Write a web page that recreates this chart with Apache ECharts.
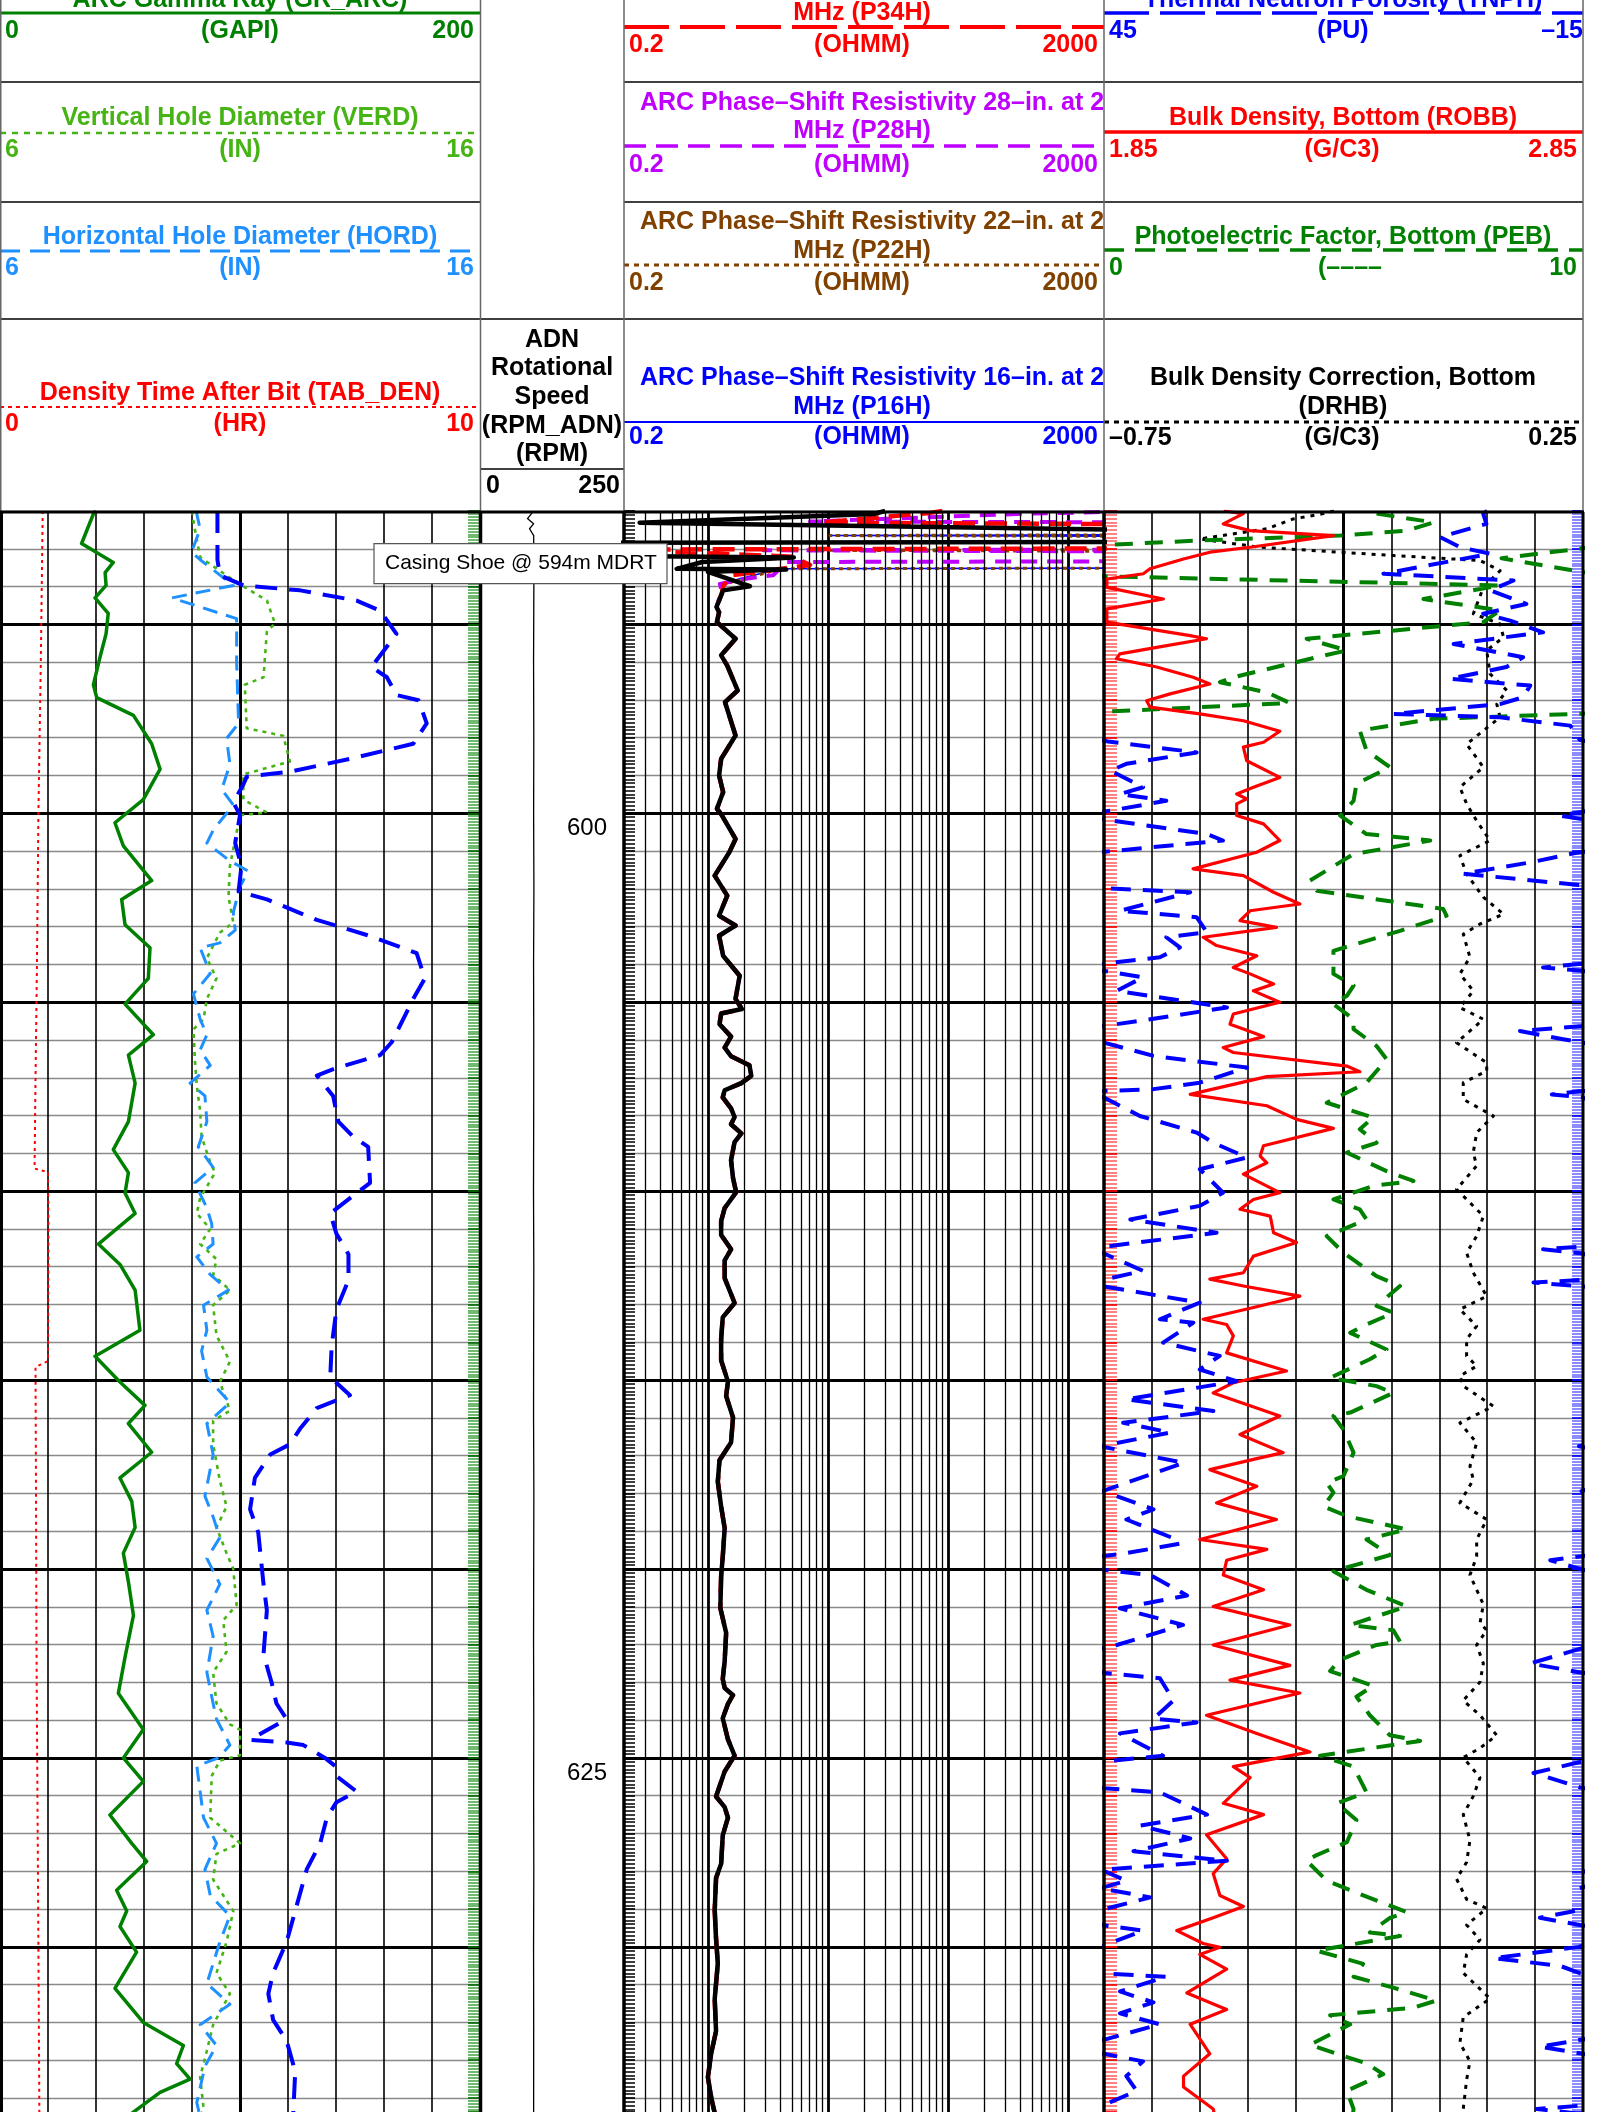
<!DOCTYPE html>
<html><head><meta charset="utf-8">
<script src="https://cdn.jsdelivr.net/npm/echarts@6.0.0/dist/echarts.min.js"></script>
<style>html,body{margin:0;padding:0;background:#fff}#c{width:1597px;height:2112px}</style>
</head><body><div id="c"></div>
<script>
// ---------------- DATA (depth m, value) ----------------
const GR_LOG = [[592.0,40],[592.08,38.9],[592.86,34.0],[593.36,47.2],[593.63,43.8],[593.97,44.2],[594.3,39.6],[594.71,45.1],[595.25,44.2],[595.86,41.7],[596.6,38.9],[596.94,40.3],[597.41,55.6],[598.16,63.2],[598.83,66.7],[599.64,59.7],[600.25,47.9],[600.86,51.4],[601.78,63.2],[602.28,50.7],[602.95,52.1],[603.56,62.5],[604.37,61.8],[605.05,52.1],[605.86,63.9],[606.4,53.5],[607.14,56.3],[608.16,53.5],[608.9,47.2],[609.51,53.5],[610.05,52.1],[610.59,56.3],[611.4,41.0],[611.94,50.0],[612.62,56.3],[613.68,58.3],[614.37,39.6],[615.05,50.0],[615.67,60.4],[616.15,53.5],[616.91,63.2],[617.59,50.0],[618.21,54.9],[618.9,56.3],[619.58,51.4],[620.34,53.5],[621.23,55.6],[622.33,52.1],[623.29,49.3],[624.25,59.7],[625.0,51.4],[625.62,59.7],[626.51,45.8],[627.26,54.9],[627.74,61.1],[628.5,48.6],[629.05,52.8],[629.46,50.0],[630.14,56.9],[631.1,47.9],[632.0,59.7],[632.61,76.4],[633.09,73.6],[633.5,79.2],[633.85,66.7],[634.4,55]];
const VERD_LOG = [[592.0,10.0],[592.28,10.03],[593.22,10.17],[593.83,10.86],[594.37,11.56],[594.98,11.73],[595.18,11.56],[596.4,11.49],[596.6,11.1],[597.75,11.14],[597.95,11.9],[598.63,12.04],[598.9,11.28],[598.97,11.07],[599.64,11.07],[599.98,11.56],[600.05,11.0],[601.4,10.79],[602.21,10.76],[602.89,10.86],[603.16,10.58],[603.83,10.31],[604.37,10.51],[604.91,10.31],[605.45,10.24],[605.72,10.03],[606.53,10.06],[607.21,10.1],[607.89,10.17],[608.56,10.2],[609.24,10.38],[609.51,10.48],[610.18,10.17],[610.59,10.1],[611.0,10.38],[611.4,10.17],[611.8,10.51],[612.21,10.44],[612.62,10.79],[613.02,10.44],[613.82,10.51],[614.51,10.79],[615.05,10.58],[615.81,10.79],[616.08,10.44],[616.7,10.44],[617.66,10.58],[618.35,10.72],[618.9,10.51],[619.58,10.72],[620.0,10.86],[620.95,10.93],[621.36,10.65],[622.19,10.72],[622.74,10.44],[623.56,10.51],[624.11,10.79],[624.25,11.0],[624.93,11.0],[625.07,10.58],[625.48,10.41],[626.58,10.38],[627.26,11.0],[627.54,10.51],[628.22,10.44],[629.05,10.86],[629.87,10.72],[630.69,10.51],[631.24,10.79],[632.06,10.44],[632.75,10.31],[633.44,10.17],[634.26,10.24],[634.4,10.2]];
const HORD_LOG = [[592.0,10.1],[592.08,10.1],[592.48,10.17],[593.09,9.99],[593.29,10.17],[593.97,10.86],[594.3,9.58],[594.85,10.93],[596.0,10.93],[597.62,10.97],[598.02,10.72],[598.7,10.79],[599.37,10.62],[599.78,10.86],[600.45,10.44],[600.79,10.31],[601.26,10.79],[601.53,11.17],[601.94,11.0],[602.62,10.86],[603.09,10.9],[603.43,10.58],[603.56,10.17],[604.24,10.38],[604.78,10.03],[605.45,10.17],[605.86,10.31],[606.26,10.17],[606.67,10.38],[607.14,9.96],[607.48,10.27],[608.16,10.31],[608.83,10.13],[609.37,10.44],[609.78,10.06],[610.45,10.31],[610.86,10.41],[611.4,10.44],[611.74,10.1],[612.21,10.38],[612.62,10.76],[613.02,10.24],[613.68,10.31],[614.23,10.2],[614.92,10.31],[615.6,10.79],[616.15,10.31],[616.97,10.44],[618.07,10.27],[618.62,10.44],[619.17,10.58],[619.72,10.31],[620.4,10.58],[621.09,10.31],[621.78,10.44],[622.74,10.31],[623.56,10.44],[623.97,10.51],[624.66,10.79],[625.0,10.55],[625.21,10.1],[625.89,10.17],[626.58,10.24],[627.26,10.51],[627.95,10.27],[628.64,10.38],[629.18,10.79],[629.87,10.58],[630.97,10.31],[631.52,10.79],[632.06,10.17],[632.61,10.51],[633.16,10.27],[634.12,10.1],[634.4,10.15]];
const TAB_LOG = [[592.0,0.89],[596.0,0.85],[600.0,0.80],[604.0,0.77],[607.0,0.74],[609.4,0.72],[609.5,1.0],[611.0,1.01],[614.5,1.0],[614.65,0.74],[618.0,0.75],[622.0,0.76],[626.0,0.78],[630.0,0.8],[634.4,0.82]];
// unlabelled dark-blue dashed curve of track 1 (its header is above the picture), read on the 6-16 in scale
const CAL2_LOG = [[592.0,10.53],[593.29,10.53],[593.7,10.58],[593.97,11.07],[594.1,12.25],[594.37,13.43],[594.64,13.92],[595.25,14.26],[596.13,13.74],[596.4,14.06],[596.87,14.26],[597.01,14.72],[597.62,14.89],[598.16,14.61],[598.56,13.29],[598.9,12.04],[599.03,11.14],[599.24,11.07],[599.71,10.86],[600.05,11.0],[600.79,10.9],[601.4,11.03],[602.07,10.97],[602.28,11.56],[602.82,12.6],[603.22,13.64],[603.7,14.68],[604.37,14.85],[604.91,14.61],[606.06,14.16],[606.4,13.92],[606.74,13.01],[606.94,12.6],[607.48,12.94],[608.16,13.05],[608.56,13.36],[608.83,13.67],[609.78,13.71],[610.12,13.36],[610.59,12.88],[611.13,13.01],[611.67,13.26],[612.35,13.26],[613.13,13.01],[614.09,12.91],[614.92,12.88],[615.4,13.29],[615.74,12.6],[616.29,12.25],[616.7,12.04],[616.97,11.63],[617.59,11.31],[618.42,11.21],[619.03,11.38],[620.4,11.49],[621.09,11.56],[622.26,11.49],[623.01,11.66],[623.56,11.76],[623.97,11.97],[624.52,11.21],[624.59,11.97],[624.66,12.32],[625.0,12.77],[625.21,12.98],[625.48,13.01],[625.89,13.43],[626.17,13.01],[626.58,12.81],[627.26,12.67],[627.95,12.39],[628.91,12.18],[629.87,11.97],[630.69,11.69],[631.24,11.59],[631.93,11.69],[632.48,11.97],[633.3,12.15],[634.4,12.11]];
const RPM_LOG = [[592.0,91],[592.07,89.5],[592.2,82.4],[592.34,93],[592.47,86],[592.65,93.2],[594,93.5],[596,93.0],[598,93.4],[600,93.1],[602,93.6],[604,93.0],[606,93.3],[608,93.2],[610,92.9],[612,93.4],[614,93.1],[616,93.0],[618,93.5],[620,93.2],[622,93.0],[624,93.3],[626,93.1],[628,93.4],[630,93.0],[632,93.2],[634.4,93.1]];
// track 3 resistivities (ohm.m); the thick black curve's header is above the picture
const RES_TOP = [[592.0,30],[592.08,24],[592.31,0.27],[592.51,5000],[592.82,5000],[592.84,0.15],[593.19,0.15],[593.23,5.2],[593.35,0.9],[593.53,0.55],[593.55,4.5],[593.61,1.0],[593.99,2.24],[594.1,1.34]];
const RES_BODY = [[594.54,1.18],[594.68,1.24],[594.94,1.19],[595.38,1.70],[595.82,1.29],[596.09,1.45],[596.75,1.77],[597.06,1.39],[597.94,1.70],[598.56,1.29],[599.0,1.24],[599.44,1.34],[599.88,1.19],[600.02,1.29],[600.68,1.70],[601.03,1.51],[601.65,1.14],[602.18,1.45],[602.71,1.24],[602.97,1.70],[603.24,1.24],[603.77,1.34],[604.3,1.84],[604.91,1.70],[605.18,1.92],[605.3,1.29],[605.58,1.25],[605.91,1.56],[606.2,1.38],[606.43,1.56],[606.67,2.22],[606.95,2.30],[607.14,1.90],[607.33,1.38],[607.52,1.33],[607.81,1.56],[608.04,1.67],[608.23,1.56],[608.47,1.90],[608.7,1.67],[609.18,1.56],[609.65,1.62],[610.03,1.72],[610.45,1.38],[610.79,1.29],[611.16,1.29],[611.54,1.56],[611.83,1.38],[612.3,1.38],[612.96,1.67],[613.34,1.33],[613.91,1.29],[614.48,1.29],[615.04,1.47],[615.42,1.42],[615.99,1.62],[616.65,1.56],[617.12,1.25],[617.69,1.21],[618.35,1.29],[618.92,1.38],[619.68,1.33],[620.18,1.29],[621.03,1.27],[621.69,1.42],[622.44,1.38],[622.91,1.33],[623.15,1.38],[623.34,1.62],[623.57,1.47],[623.95,1.33],[624.51,1.47],[624.94,1.67],[625.36,1.38],[626.02,1.17],[626.3,1.38],[626.58,1.47],[627.05,1.33],[627.8,1.29],[628.18,1.17],[629.03,1.14],[629.78,1.17],[630.44,1.21],[631.38,1.14],[632.23,1.17],[632.79,1.07],[633.45,1.0],[634.01,1.07],[634.4,1.14]];
const P34H_TOP = [[592.0,90],[592.05,71],[592.31,8.6],[592.35,5000],[592.99,5000],[593.02,0.15],[593.21,5.15],[593.43,7.1],[593.7,1.6],[593.97,1.35],[594.2,1.3]];
const P28H_TOP = [[592.0,5000],[592.07,454],[592.28,7.1],[592.3,5000],[593.02,5000],[593.04,2.9],[593.07,5000],[593.33,5000],[593.35,4.54],[593.7,3.5],[593.8,2.0],[593.93,1.26],[594.1,1.3]];
const P22H_TOP = [[592.0,5000],[592.63,5000],[592.65,10.4],[592.67,5000],[593.02,5000],[593.04,9.8],[593.07,5000],[593.51,5000],[593.53,3.99],[593.8,2.0],[593.95,1.3],[594.2,1.3]];
const P16H_TOP = [[592.0,5000],[592.63,5000],[592.65,10.4],[592.67,5000],[593.51,5000],[593.53,3.99],[593.8,1.8],[593.95,1.3],[594.2,1.3]];
// track 4
const TNPH_LOG = [[592.0,57],[592.07,57.5],[592.34,57.1],[592.69,62.9],[592.96,60.4],[593.13,56.6],[593.66,70.0],[593.84,53.7],[594.1,56.6],[594.46,52.1],[594.72,57.5],[594.9,54.1],[595.21,50.0],[595.52,61.2],[595.87,52.5],[596.13,54.6],[596.44,61.7],[596.62,51.6],[596.93,52.5],[597.11,55.4],[597.37,68.8],[597.46,55.4],[597.68,46.6],[598.06,45.4],[598.1,44.5],[598.39,33.4],[598.69,42.2],[598.87,44.2],[599.31,40.1],[599.49,43.0],[599.67,37.2],[599.93,44.2],[600.06,47.9],[600.2,43.8],[600.55,32.1],[600.72,30.1],[601.03,45.5],[601.3,51.6],[601.6,60.0],[601.9,45.4],[601.98,45.0],[602.09,34.2],[602.58,43.0],[602.75,33.4],[603.15,32.1],[603.28,37.2],[603.55,35.5],[603.81,38.0],[603.99,45.5],[604.08,50.0],[604.17,45.0],[604.34,40.1],[604.7,43.4],[605.14,29.6],[605.45,39.2],[605.63,45.0],[605.76,52.9],[605.98,47.5],[606.07,45.0],[606.42,38.8],[606.73,27.1],[607.13,33.0],[607.3,38.8],[607.35,45.2],[607.44,48.9],[607.52,45.0],[607.74,43.0],[608.01,40.5],[608.45,33.4],[608.72,31.3],[609.11,27.1],[609.42,33.0],[610.04,30.1],[610.39,33.0],[610.75,41.7],[611.1,30.9],[611.45,44.2],[611.54,50.0],[611.65,45.0],[612.11,40.1],[612.35,45.2],[612.42,51.2],[612.52,45.0],[612.95,33.0],[613.39,38.0],[613.48,33.8],[614.01,37.6],[614.36,30.5],[614.72,33.0],[615.03,28.4],[615.51,42.2],[615.82,31.3],[616.13,42.6],[616.39,36.7],[616.75,45.5],[617.19,35.0],[617.94,45.2],[618.42,38.8],[618.69,42.2],[619.22,35.9],[619.33,35.5],[619.58,42.2],[619.77,49.1],[620.02,45.0],[620.16,39.2],[620.7,34.6],[621.04,43.0],[621.48,35.1],[622.01,43.4],[622.1,45.2],[622.5,51.6],[622.75,45.0],[622.89,38.0],[623.48,36.3],[623.96,38.8],[624.06,33.4],[624.35,43.0],[624.94,37.6],[625.1,45.2],[625.4,51.2],[625.8,45.0],[625.91,38.0],[626.5,32.1],[626.79,40.5],[627.13,34.2],[627.47,41.3],[627.72,29.6],[627.96,45.3],[628.25,42.2],[628.45,45.5],[628.69,39.2],[629.03,45.5],[629.23,50.4],[629.42,45.4],[629.57,40.1],[630.0,45.5],[630.3,56.2],[630.5,47.9],[630.7,45.3],[630.79,37.2],[631.18,43.0],[631.47,38.8],[631.76,43.0],[632.05,38.0],[632.44,44.7],[632.64,50.4],[632.83,45.0],[633.03,40.1],[633.42,42.2],[633.81,40.9],[634.2,45.2],[634.29,50.8],[634.4,46]];
const ROBB_LOG = [[592.0,2.10],[592.07,2.141],[592.34,2.099],[592.52,2.155],[592.65,2.329],[592.96,2.155],[593.09,2.071],[593.27,2.016],[593.53,1.946],[593.66,1.932],[593.8,1.856],[594.02,1.856],[594.33,1.974],[594.59,1.856],[594.94,1.856],[595.3,2.03],[595.38,2.064],[595.61,1.96],[595.78,1.883],[595.91,1.876],[596.13,1.96],[596.4,2.036],[596.58,2.071],[596.84,1.988],[597.02,1.939],[597.19,1.946],[597.37,2.05],[597.55,2.141],[597.83,2.217],[598.12,2.183],[598.25,2.141],[598.61,2.148],[599.05,2.217],[599.31,2.162],[599.49,2.127],[599.62,2.148],[599.75,2.127],[600.06,2.127],[600.28,2.183],[600.72,2.217],[601.03,2.169],[601.47,2.036],[601.65,2.141],[602.09,2.204],[602.4,2.259],[602.58,2.155],[602.84,2.134],[603.02,2.21],[603.28,2.057],[603.5,2.085],[603.77,2.169],[604.08,2.12],[604.25,2.155],[604.52,2.204],[604.7,2.162],[605.0,2.217],[605.31,2.12],[605.58,2.113],[605.71,2.141],[605.91,2.183],[606.2,2.099],[606.33,2.12],[606.69,2.357],[606.84,2.384],[606.97,2.19],[607.44,2.03],[607.74,2.19],[608.1,2.252],[608.34,2.329],[608.8,2.183],[609.07,2.176],[609.25,2.19],[609.55,2.141],[610.04,2.217],[610.22,2.162],[610.48,2.134],[610.66,2.197],[611.1,2.204],[611.36,2.252],[611.72,2.162],[612.16,2.141],[612.33,2.071],[612.51,2.141],[612.78,2.259],[613.08,2.162],[613.39,2.057],[613.53,2.106],[613.83,2.12],[614.28,2.106],[614.76,2.231],[615.07,2.12],[615.34,2.078],[615.95,2.217],[616.44,2.134],[616.92,2.224],[617.1,2.162],[617.37,2.071],[617.81,2.169],[618.25,2.085],[618.69,2.21],[619.22,2.05],[619.48,2.19],[619.77,2.106],[620.16,2.099],[620.55,2.183],[620.99,2.078],[621.48,2.238],[622.01,2.078],[622.55,2.238],[622.94,2.113],[623.28,2.259],[623.87,2.064],[624.35,2.169],[624.84,2.28],[625.23,2.12],[625.52,2.155],[626.2,2.099],[626.5,2.183],[627.03,2.064],[627.67,2.106],[628.06,2.078],[628.64,2.092],[628.93,2.141],[629.23,2.078],[629.57,2.002],[629.91,2.057],[630.01,2.092],[630.2,2.05],[630.59,2.106],[631.22,2.023],[631.66,2.106],[632.05,2.03],[632.83,2.071],[633.42,2.016],[633.71,2.016],[634.29,2.078],[634.4,2.08]];
const PEB_LOG = [[592.07,5.69],[592.3,6.88],[592.52,6.33],[592.65,4.93],[592.78,2.0],[592.92,-0.3],[592.93,null],[592.94,10.3],[593.25,8.3],[593.68,10.3],[593.7,null],[593.72,-0.3],[593.97,8.27],[594.33,6.67],[594.63,8.27],[594.94,7.92],[595.38,4.23],[595.69,5.07],[595.87,4.44],[596.4,2.7],[596.53,2.42],[596.8,3.4],[597.08,3.88],[597.33,-0.3],[597.34,null],[597.35,10.3],[597.5,6.88],[597.81,5.34],[598.34,5.48],[598.78,5.97],[599.22,5.27],[599.67,5.21],[600.06,4.93],[600.55,5.48],[600.72,6.81],[601.08,5.21],[601.78,4.3],[602.05,4.44],[602.53,7.08],[602.71,7.15],[603.11,6.18],[603.64,4.79],[604.25,4.79],[604.56,5.21],[604.83,5.07],[605.05,4.79],[605.45,5.21],[605.71,5.21],[606.16,5.69],[606.51,5.9],[607.13,5.48],[607.48,4.93],[607.66,4.65],[608.05,5.62],[608.36,5.34],[608.72,5.69],[608.98,5.07],[609.47,5.9],[609.73,6.46],[609.86,5.62],[610.22,4.79],[610.48,5.34],[610.75,5.48],[611.19,4.65],[611.63,5.0],[612.25,5.69],[612.51,6.18],[613.04,5.69],[613.22,6.04],[613.57,5.41],[613.75,5.14],[614.19,5.9],[614.45,5.55],[614.94,4.72],[615.16,5.69],[615.34,6.04],[615.86,5.14],[615.95,4.79],[616.31,5.0],[616.92,5.21],[617.54,5.0],[617.72,4.65],[617.98,4.79],[618.34,4.58],[618.6,5.07],[618.95,6.32],[619.22,5.48],[619.63,5.97],[620.06,4.79],[620.55,5.48],[620.99,6.32],[621.48,5.14],[621.62,6.04],[621.92,6.18],[622.01,5.69],[622.4,4.93],[622.7,4.72],[623.09,5.62],[623.38,5.27],[623.87,5.55],[624.4,5.97],[624.55,6.6],[624.94,4.51],[625.23,5.21],[625.91,5.48],[626.2,4.86],[626.64,5.27],[627.23,5.07],[627.57,4.44],[627.72,4.23],[628.25,4.65],[628.5,5.14],[629.08,6.32],[629.23,5.97],[629.62,5.55],[629.71,6.18],[630.1,4.44],[630.45,5.41],[630.79,5.21],[631.08,6.04],[631.42,6.94],[631.61,6.46],[631.81,4.72],[632.05,5.14],[632.59,4.3],[632.83,4.86],[633.08,5.48],[633.37,5.83],[633.81,5.07],[634.29,5.21],[634.4,5.2]];
const DRHB_LOG = [[592.0,-0.27],[592.07,-0.292],[592.21,-0.355],[592.47,-0.41],[592.74,-0.55],[592.96,-0.424],[593.18,-0.146],[593.31,0.035],[593.58,0.077],[594.02,0.042],[594.72,0.021],[594.99,0.077],[595.34,0.084],[595.69,0.049],[596.31,0.056],[596.75,0.091],[597.11,0.07],[597.46,0.077],[597.81,0.042],[598.17,0.007],[598.78,0.042],[599.31,-0.007],[599.75,0.007],[600.2,0.028],[600.72,0.056],[601.12,-0.007],[601.61,0.007],[602.22,0.042],[602.67,0.084],[602.93,0.035],[603.2,0.0],[603.81,0.014],[604.25,-0.007],[604.7,0.021],[605.14,-0.007],[605.45,0.042],[606.07,-0.014],[606.6,0.049],[606.82,0.049],[607.13,0.0],[607.57,0.0],[608.01,0.063],[608.45,0.028],[608.98,0.021],[609.33,0.028],[609.95,-0.014],[610.66,0.042],[611.19,0.028],[611.63,0.007],[612.16,0.021],[612.78,0.049],[613.13,-0.007],[613.57,0.028],[613.92,0.007],[614.36,0.007],[614.63,0.028],[614.89,-0.007],[615.16,0.0],[615.69,0.063],[616.13,-0.007],[616.66,0.028],[617.28,0.014],[617.63,0.021],[618.25,-0.007],[618.69,0.049],[619.22,0.028],[619.67,0.028],[620.16,0.014],[620.94,0.042],[621.43,0.035],[621.62,0.049],[622.01,0.028],[622.5,0.042],[622.99,0.035],[623.48,0.0],[623.87,0.035],[624.4,0.07],[624.74,0.035],[624.99,0.0],[625.52,0.035],[626.01,0.021],[626.5,0.0],[627.18,0.014],[627.76,0.007],[628.2,-0.014],[628.74,0.007],[628.98,0.049],[629.42,0.007],[629.81,0.035],[630.2,0.007],[630.69,0.0],[631.37,0.056],[631.86,0.0],[632.54,-0.007],[633.03,0.014],[633.52,0.007],[634.29,0.0],[634.4,0.0]];
// log-grid minor lines of the resistivity track and depth labels / annotation
const LOG_MINOR_TICKS = [0.3,0.4,0.5,0.6,0.7,0.8,0.9,2,3,4,5,6,7,8,9,20,30,40,50,60,70,80,90,200,300,400,500,600,700,800,900];
const DEPTH_LABEL_STEP = 25;
const CASING_SHOE_DEPTH = 594;
const CASING_SHOE_TEXT = 'Casing Shoe @ 594m MDRT';

// ---------------- LAYOUT ----------------
const DEPTH_MIN = 592, DEPTH_MAX = 634.37;
const GRID_TOP = 511, GRID_H = 1601;
const FONT = '"Liberation Sans", Arial, Helvetica, sans-serif';
const C = {gr:'#008000', verd:'#46B414', hord:'#1E90FF', red:'#FF0000', blue:'#0000FF', purple:'#BF00FF', brown:'#804000', black:'#000000', green:'#008000'};
const T = 'rgba(0,0,0,0)';
const MAJOR_COLORS = [T, T, T, '#000', T];

function yAx(grid, pos, extra) {
  return Object.assign({type:'value', gridIndex:grid, position:pos, min:DEPTH_MIN, max:DEPTH_MAX, interval:1, inverse:true,
    axisLine:{show:false}, axisTick:{show:false}, minorTick:{show:false}, axisLabel:{show:false}, splitLine:{show:false}}, extra || {});
}
const minorSplit = {show:true, showMinLine:true, showMaxLine:false, lineStyle:{color:'#8a8a8a', width:1.4}};
const majorSplit = {show:true, showMinLine:true, showMaxLine:false, lineStyle:{color:MAJOR_COLORS, width:2.8}};
function ticks(color, minorColor, len, split, inside) {
  return {axisTick:{show:true, inside:inside, length:len, lineStyle:{color:color, width:1.7}},
          minorTick:{show:true, splitNumber:split, length:len, lineStyle:{color:minorColor, width:1.5}}};
}
function gridX(grid, interval, width) {
  return {type:'value', gridIndex:grid, min:0, max:10, interval:interval, axisLine:{show:false}, axisTick:{show:false}, axisLabel:{show:false},
    splitLine:{show:true, showMinLine:false, showMaxLine:false, lineStyle:{color:'#000', width:width}}};
}
function hiddenX(grid, min, max, extra) {
  return Object.assign({type:'value', gridIndex:grid, min:min, max:max, show:false, splitLine:{show:false}}, extra || {});
}
function curve(name, arr, xi, yi, color, width, type, z) {
  return {type:'line', name:name, xAxisIndex:xi, yAxisIndex:yi,
    data: arr.map(p => [p[1] === null ? '-' : p[1], p[0]]),
    symbol:'none', showSymbol:false, silent:true, animation:false, connectNulls:false, clip:true, z:z || 3,
    lineStyle:{color:color, width:width, type:type || 'solid', cap:'butt', join:'round'}};
}

const xAxis = [
  gridX(0, 1, 1.6),                 // 0 track1 grid
  gridX(0, 5, 3),                   // 1 track1 centre line
  hiddenX(0, 0, 200),               // 2 GR
  hiddenX(0, 6, 16),                // 3 calipers
  hiddenX(1, 0, 250),               // 4 RPM
  {type:'log', gridIndex:2, min:0.2, max:2000, logBase:10, splitNumber:4, axisLine:{show:false}, axisTick:{show:false}, axisLabel:{show:false},
    splitLine:{show:true, showMinLine:false, showMaxLine:false, lineStyle:{color:'#000', width:2.8}}}, // 5 resistivity
  gridX(3, 1, 1.6),                 // 6 track4 grid
  gridX(3, 5, 3),                   // 7 track4 centre
  hiddenX(3, -15, 45, {inverse:true}),  // 8 TNPH
  hiddenX(3, 45, 105, {inverse:true}),  // 9 TNPH backup (wrap)
  hiddenX(3, 1.85, 2.85),           // 10 ROBB
  hiddenX(3, -0.75, 0.25),          // 11 DRHB
  hiddenX(4, 0, 1)                  // 12 edge strip
];
const yAxis = [
  yAx(0, 'left', {splitLine:minorSplit}),
  yAx(0, 'right', {splitLine:majorSplit}),
  yAx(1, 'right', {axisLabel:{show:true, inside:true, margin:17, verticalAlign:'top', padding:[3,0,0,0], fontSize:24, fontFamily:FONT, color:'#000',
      formatter: v => (Math.abs(v % DEPTH_LABEL_STEP) < 1e-6 ? String(v) : '')}}),
  yAx(2, 'left', Object.assign({splitLine:minorSplit}, ticks('#000', '#000', 11, 10, true))),
  yAx(2, 'right', {splitLine:majorSplit}),
  yAx(3, 'left', Object.assign({splitLine:minorSplit}, ticks('#FF0000', 'rgba(255,0,0,0.65)', 13, 10, true))),
  yAx(3, 'right', {splitLine:majorSplit}),
  // green ticks on the right edge of track 1 (drawn outward from track 2's left edge)
  yAx(1, 'left', ticks('#007000', 'rgba(0,130,0,0.75)', 12, 13, false)),
  // blue ticks on the right edge of track 4 (drawn outward from a thin strip beyond it)
  yAx(4, 'left', ticks('#0000FF', 'rgba(0,0,255,0.6)', 11, 13, false))
];

const series = [
  {type:'line', xAxisIndex:5, yAxisIndex:3, data:[], symbol:'none', silent:true, z:1, animation:false,
    markLine:{silent:true, symbol:['none','none'], animation:false, label:{show:false}, emphasis:{disabled:true},
      lineStyle:{color:'#000', width:1.3, type:'solid'}, data: LOG_MINOR_TICKS.map(v => ({xAxis:v}))}},
  {type:'line', xAxisIndex:12, yAxisIndex:8, data:[], symbol:'none', silent:true},
  curve('TAB_DEN', TAB_LOG, 0, 0, C.red, 2, [3,4]),
  curve('VERD', VERD_LOG, 3, 0, C.verd, 2.6, [4,5]),
  curve('HORD', HORD_LOG, 3, 0, C.hord, 3, [15,9]),
  curve('CAL2', CAL2_LOG, 3, 0, C.blue, 4, [22,12]),
  curve('GR_ARC', GR_LOG, 2, 0, C.gr, 3.5, 'solid', 4),
  curve('RPM_ADN', RPM_LOG, 4, 2, '#000', 1.3),
  curve('P16H', P16H_TOP.concat(RES_BODY), 5, 3, C.blue, 1.6),
  curve('P22H', P22H_TOP.concat(RES_BODY), 5, 3, C.brown, 3, [4,4]),
  curve('P28H', P28H_TOP.concat(RES_BODY), 5, 3, C.purple, 4, [16,10]),
  curve('P34H', P34H_TOP.concat(RES_BODY), 5, 3, C.red, 4.5, [22,10]),
  curve('RES_BLACK', RES_TOP.concat(RES_BODY), 5, 3, '#000', 4.5, 'solid', 4),
  curve('DRHB', DRHB_LOG, 11, 5, '#000', 3, [4,6]),
  curve('PEB', PEB_LOG, 6, 5, C.green, 4, [18,12]),
  curve('ROBB', ROBB_LOG, 10, 5, C.red, 3.2),
  curve('TNPH', TNPH_LOG, 8, 5, C.blue, 4, [20,12], 4),
  curve('TNPH_wrap', TNPH_LOG, 9, 5, C.blue, 4, [20,12], 4)
];

// ---------------- HEADER GRAPHICS ----------------
const G = [];
function txt(x, y, s, color, align, font) {
  G.push({type:'text', z:20, silent:true, style:{x:x, y:y, text:s, fill:color, font: font || ('bold 25px ' + FONT),
    textAlign:align || 'center', align:align || 'center', textVerticalAlign:'middle', verticalAlign:'middle'}});
}
function ln(x1, y1, x2, y2, color, w, dash) {
  G.push({type:'line', z:20, silent:true, shape:{x1:x1, y1:y1, x2:x2, y2:y2}, style:{stroke:color, lineWidth:w, lineDash:dash || null}});
}
function scaleRow(x0, x1, cx, y, l, u, r, color) {
  txt(x0 + 5, y, l, color, 'left'); txt(cx, y, u, color, 'center'); txt(x1 - 6, y, r, color, 'right');
}
// track 1
txt(240, 0, 'ARC Gamma Ray (GR_ARC)', C.gr); ln(0, 13, 480, 13, C.gr, 3); scaleRow(0, 480, 240, 31, '0', '(GAPI)', '200', C.gr);
txt(240, 118, 'Vertical Hole Diameter (VERD)', C.verd); ln(0, 133, 480, 133, C.verd, 2.5, [6,6]); scaleRow(0, 480, 240, 150, '6', '(IN)', '16', C.verd);
txt(240, 237, 'Horizontal Hole Diameter (HORD)', C.hord); ln(0, 251, 480, 251, C.hord, 3, [20,10]); scaleRow(0, 480, 240, 268, '6', '(IN)', '16', C.hord);
txt(240, 393, 'Density Time After Bit (TAB_DEN)', C.red); ln(0, 407, 480, 407, C.red, 2, [4,4]); scaleRow(0, 480, 240, 424, '0', '(HR)', '10', C.red);
// track 2
['ADN','Rotational','Speed','(RPM_ADN)','(RPM)'].forEach((s, i) => txt(552, [340,368,397,426,454][i], s, '#000'));
ln(480, 469, 624, 469, '#000', 1.5);
txt(486, 486, '0', '#000', 'left'); txt(620, 486, '250', '#000', 'right');
// track 3
txt(862, 13, 'MHz (P34H)', C.red); ln(624, 27, 1104, 27, C.red, 4, [45,11]); scaleRow(624, 1104, 862, 45, '0.2', '(OHMM)', '2000', C.red);
txt(640, 103, 'ARC Phase–Shift Resistivity 28–in. at 2', C.purple, 'left'); txt(862, 131, 'MHz (P28H)', C.purple);
ln(624, 146, 1104, 146, C.purple, 3.5, [22,10]); scaleRow(624, 1104, 862, 165, '0.2', '(OHMM)', '2000', C.purple);
txt(640, 222, 'ARC Phase–Shift Resistivity 22–in. at 2', C.brown, 'left'); txt(862, 251, 'MHz (P22H)', C.brown);
ln(624, 265, 1104, 265, C.brown, 3, [5,5]); scaleRow(624, 1104, 862, 283, '0.2', '(OHMM)', '2000', C.brown);
txt(640, 378, 'ARC Phase–Shift Resistivity 16–in. at 2', C.blue, 'left'); txt(862, 407, 'MHz (P16H)', C.blue);
ln(624, 422, 1104, 422, C.blue, 2); scaleRow(624, 1104, 862, 437, '0.2', '(OHMM)', '2000', C.blue);
// track 4
txt(1343, 0, 'Thermal Neutron Porosity (TNPH)', C.blue); ln(1104, 13, 1583, 13, C.blue, 3.5, [45,11]);
txt(1109, 31, '45', C.blue, 'left'); txt(1343, 31, '(PU)', C.blue); txt(1583, 31, '–15', C.blue, 'right');
txt(1343, 118, 'Bulk Density, Bottom (ROBB)', C.red); ln(1104, 132, 1583, 132, C.red, 3.5); scaleRow(1104, 1583, 1342, 150, '1.85', '(G/C3)', '2.85', C.red);
txt(1343, 237, 'Photoelectric Factor, Bottom (PEB)', C.green); ln(1104, 250, 1583, 250, C.green, 3.5, [20,11]);
txt(1109, 268, '0', C.green, 'left'); txt(1350, 268, '(––––', C.green); txt(1577, 268, '10', C.green, 'right');
txt(1343, 378, 'Bulk Density Correction, Bottom', '#000'); txt(1343, 407, '(DRHB)', '#000'); ln(1104, 422, 1583, 422, '#000', 3, [5,5]);
scaleRow(1104, 1583, 1342, 438, '–0.75', '(G/C3)', '0.25', '#000');
// header dividers & borders
[82, 202].forEach(y => { ln(0, y, 480, y, '#000', 1.5); ln(624, y, 1583, y, '#000', 1.5); });
ln(0, 319, 1583, 319, '#000', 1.5);
[0.75, 480.5, 624, 1104, 1583].forEach(x => ln(x, 0, x, 512, '#666', 1.5));
ln(0, 512, 1584, 512, '#000', 3);
// data-area track borders
ln(1.5, 512, 1.5, 2112, '#000', 3);
[480.5, 624, 1104].forEach(x => ln(x, 512, x, 2112, '#000', 3.5));
ln(1583, 512, 1583, 2112, '#000', 3);

const option = {
  animation:false, backgroundColor:'#fff',
  grid:[
    {left:0, top:GRID_TOP, width:480, height:GRID_H, outerBoundsMode:'none'},
    {left:480, top:GRID_TOP, width:144, height:GRID_H, outerBoundsMode:'none'},
    {left:624, top:GRID_TOP, width:480, height:GRID_H, outerBoundsMode:'none'},
    {left:1104, top:GRID_TOP, width:479, height:GRID_H, outerBoundsMode:'none'},
    {left:1583, top:GRID_TOP, width:12, height:GRID_H, outerBoundsMode:'none'}
  ],
  xAxis:xAxis, yAxis:yAxis, series:series,
  graphic:{elements:G}
};
const chart = echarts.init(document.getElementById('c'), null, {renderer:'canvas', width:1597, height:2112});
chart.setOption(option);
// casing shoe annotation, positioned through the depth axis
const yShoe = chart.convertToPixel({yAxisIndex:2}, CASING_SHOE_DEPTH);
const boxB = yShoe - 3, boxT = boxB - 40;
const G2 = G.concat([
  {type:'rect', z:30, silent:true, shape:{x:374, y:boxT, width:293, height:40}, style:{fill:'#fff', stroke:'#555', lineWidth:1.2}},
  {type:'text', z:31, silent:true, style:{x:385, y:boxT + 20, text:CASING_SHOE_TEXT, fill:'#000', font:'21px ' + FONT,
    textAlign:'left', align:'left', textVerticalAlign:'middle', verticalAlign:'middle'}}
]);
option.graphic = {elements:G2};
chart.setOption(option, true);
</script></body></html>
